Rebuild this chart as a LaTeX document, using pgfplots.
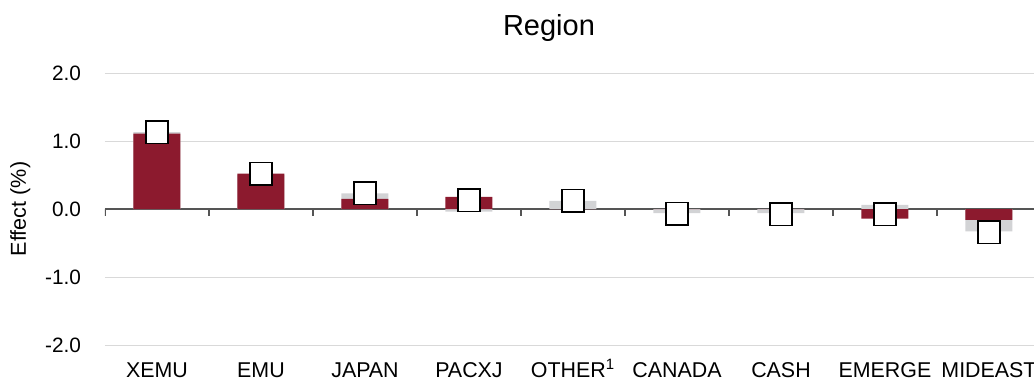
\documentclass[border=0pt]{standalone}
\usepackage{pgfplots}
\pgfplotsset{compat=1.18}
\usepackage{fontspec}
\setmainfont{Liberation Sans}
\definecolor{barred}{HTML}{8C1A2E}
\definecolor{bargrey}{HTML}{D2D3D5}
\definecolor{gridgrey}{HTML}{D9D9D9}
\definecolor{zerogrey}{HTML}{555555}
\begin{document}
\begin{tikzpicture}
\useasboundingbox (0,0) rectangle (517pt,190.5pt);
\node[font=\fontsize{14.5}{17}\selectfont, anchor=base] at (274.5pt,172.5pt) {Region};
\begin{axis}[
  at={(52.5pt,18pt)}, anchor=south west,
  scale only axis, width=468pt, height=136pt,
  xmin=-0.5, xmax=8.5, ymin=-2, ymax=2,
  axis line style={draw=none},
  major tick length=0pt,
  xtick={0,...,8},
  xticklabels={XEMU,EMU,JAPAN,PACXJ,OTHER\textsuperscript{1},CANADA,CASH,EMERGE,MIDEAST},
  xticklabel style={font=\fontsize{10.7}{13}\selectfont, anchor=base, yshift=-16pt},
  ytick={-2,-1,1,2},
  extra y ticks={0},
  extra y tick style={grid style={draw=zerogrey, line width=0.6pt}},
  ymajorgrids, grid style={draw=gridgrey, line width=0.5pt},
  yticklabel style={font=\fontsize{10.4}{12}\selectfont, anchor=east, xshift=-8.5pt,
    /pgf/number format/.cd, fixed, fixed zerofill, precision=1, assume math mode=true},
  ylabel={Effect (\%)},
  every axis y label/.style={at={(axis description cs:-0.0905,0.5)}, anchor=center, rotate=90, font=\fontsize{10.8}{12}\selectfont},
  clip=true,
]
\addplot[ybar, bar width=23.5pt, bar shift=0pt, fill=bargrey, draw=none] coordinates {
  (0,1.13) (1,0.50) (2,0.23) (3,-0.04) (4,0.12) (5,-0.06) (6,-0.06) (7,0.06) (8,-0.33)};
\addplot[ybar, bar width=23.5pt, bar shift=0pt, fill=barred, draw=none] coordinates {
  (0,1.11) (1,0.52) (2,0.15) (3,0.18) (4,0.0) (5,0.0) (6,0.0) (7,-0.14) (8,-0.16)};
\addplot[only marks, mark=square*, mark size=5.6pt, mark options={fill=white, draw=black, line width=0.8pt}] coordinates {
  (0,1.13) (1,0.52) (2,0.23) (3,0.13) (4,0.12) (5,-0.07) (6,-0.08) (7,-0.08) (8,-0.34)};
\pgfplotsinvokeforeach{-0.5,0.5,1.5,2.5,3.5,4.5,5.5,6.5,7.5}{
  \draw[zerogrey, line width=0.6pt] (axis cs:#1,0) -- ([yshift=-3.5pt]axis cs:#1,0);
}
\end{axis}
\end{tikzpicture}
\end{document}
